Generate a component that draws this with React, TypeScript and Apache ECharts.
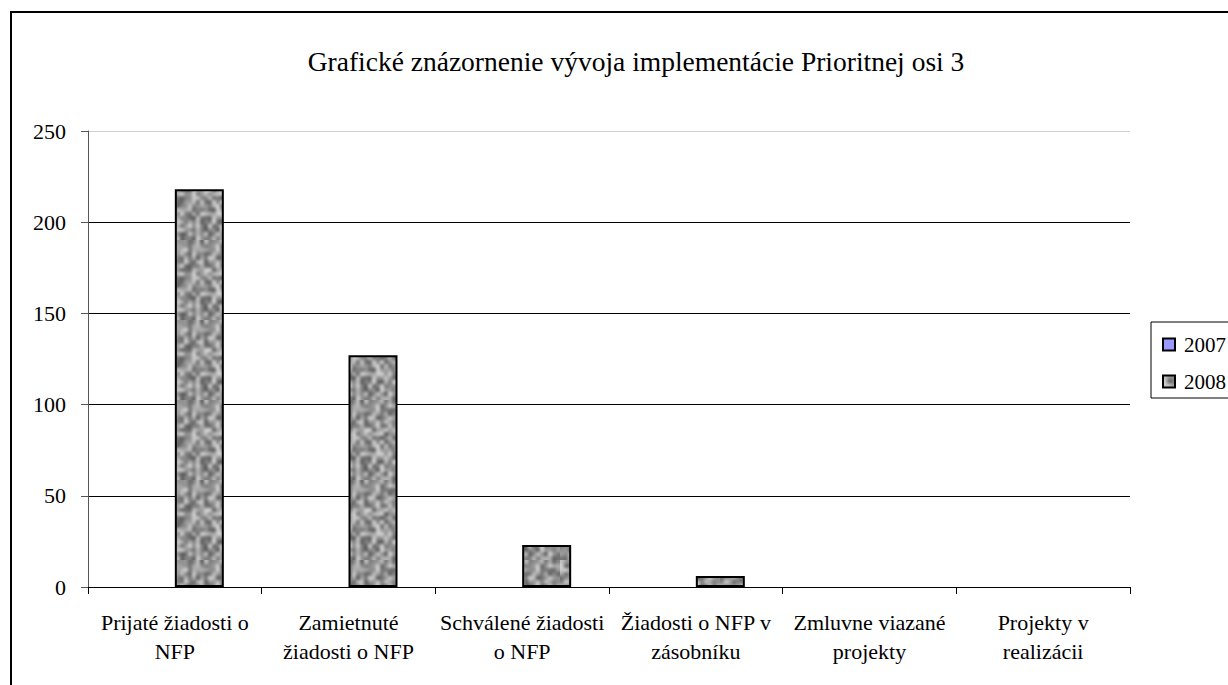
import React, { useEffect, useRef } from "react";
import * as echarts from "echarts";

const titleText = "Grafické znázornenie vývoja implementácie Prioritnej osi 3";
const categories = [
  "Prijaté žiadosti o\nNFP",
  "Zamietnuté\nžiadosti o NFP",
  "Schválené žiadosti\no NFP",
  "Žiadosti o NFP v\nzásobníku",
  "Zmluvne viazané\nprojekty",
  "Projekty v\nrealizácii",
];
const seriesNames = ["2007", "2008"];
const values2007: (number | null)[] = [null, null, null, null, null, null];
const values2008: number[] = [218, 127, 23, 6, 0, 0];

const FONT = "Liberation Serif";

function makeTexture(): HTMLCanvasElement {
  const small = document.createElement("canvas");
  const n = 20;
  small.width = n;
  small.height = n;
  const sctx = small.getContext("2d")!;
  const img = sctx.createImageData(n, n);
  let s = 424242;
  for (let i = 0; i < n * n; i++) {
    s = (s * 1103515245 + 12345) & 0x7fffffff;
    const r = ((s >> 8) % 1000) / 1000;
    const v = Math.round(205 - r * 110);
    img.data[i * 4] = v;
    img.data[i * 4 + 1] = v;
    img.data[i * 4 + 2] = v;
    img.data[i * 4 + 3] = 255;
  }
  sctx.putImageData(img, 0, 0);
  const big = document.createElement("canvas");
  big.width = n * 4;
  big.height = n * 4;
  const bctx = big.getContext("2d")!;
  bctx.imageSmoothingEnabled = true;
  bctx.imageSmoothingQuality = "high";
  bctx.drawImage(small, 0, 0, n * 4, n * 4);
  return big;
}

export default function App() {
  const ref = useRef<HTMLDivElement>(null);
  useEffect(() => {
    const chart = echarts.init(ref.current!, null, { renderer: "svg" });
    const tex = makeTexture();
    chart.setOption({
      animation: false,
      backgroundColor: "#ffffff",
      title: {
        text: titleText,
        left: 631,
        textAlign: "center",
        top: 42,
        textStyle: { fontFamily: FONT, fontSize: 27.5, fontWeight: "normal", color: "#000" },
      },
      legend: {
        orient: "vertical",
        left: 1157,
        top: 329,
        itemGap: 16,
        itemWidth: 12,
        itemHeight: 12,
        icon: "rect",
        data: seriesNames,
        textStyle: { fontFamily: FONT, fontSize: 21, color: "#000", padding: [0, 0, 0, 4] },
      },
      graphic: [
        {
          type: "rect",
          shape: { x: 11, y: 12, width: 1400, height: 800 },
          style: { fill: "none", stroke: "#000", lineWidth: 2 },
          z: 100,
        },
        {
          type: "rect",
          shape: { x: 1151, y: 322, width: 200, height: 76 },
          style: { fill: "none", stroke: "#000", lineWidth: 1 },
          z: 100,
        },
      ],
      grid: { left: 88, right: 98, top: 131, bottom: 98, containLabel: false },
      xAxis: {
        type: "category",
        data: categories,
        axisLine: { lineStyle: { color: "#000", width: 1 } },
        axisTick: { show: true, length: 7, lineStyle: { color: "#000" } },
        axisLabel: {
          interval: 0,
          margin: 21,
          fontFamily: FONT,
          fontSize: 22,
          lineHeight: 29,
          color: "#000",
        },
      },
      yAxis: {
        type: "value",
        min: 0,
        max: 250,
        interval: 50,
        axisLine: { show: true, lineStyle: { color: "#555", width: 1 } },
        axisTick: { show: true, length: 7, lineStyle: { color: "#555" } },
        axisLabel: { margin: 22, fontFamily: FONT, fontSize: 22, color: "#000" },
        splitLine: {
          show: true,
          lineStyle: { color: ["#000", "#000", "#000", "#000", "#000", "#d0d0d0"], width: 1 },
        },
      },
      series: [
        {
          name: seriesNames[0],
          type: "bar",
          data: values2007,
          barWidth: 49,
          barGap: "0%",
          itemStyle: { color: "#9999ff", borderColor: "#000", borderWidth: 1.5 },
        },
        {
          name: seriesNames[1],
          type: "bar",
          data: values2008.map((v) =>
            v === 0 ? { value: v, itemStyle: { borderWidth: 0 } } : v
          ),
          barWidth: 49,
          barGap: "0%",
          itemStyle: {
            color: { image: tex, repeat: "repeat" },
            borderColor: "#000",
            borderWidth: 2,
          },
        },
      ],
    });
    return () => chart.dispose();
  }, []);
  return (
    <div
      ref={ref}
      style={{ position: "fixed", left: 0, top: 0, width: 1228, height: 685 }}
    />
  );
}
